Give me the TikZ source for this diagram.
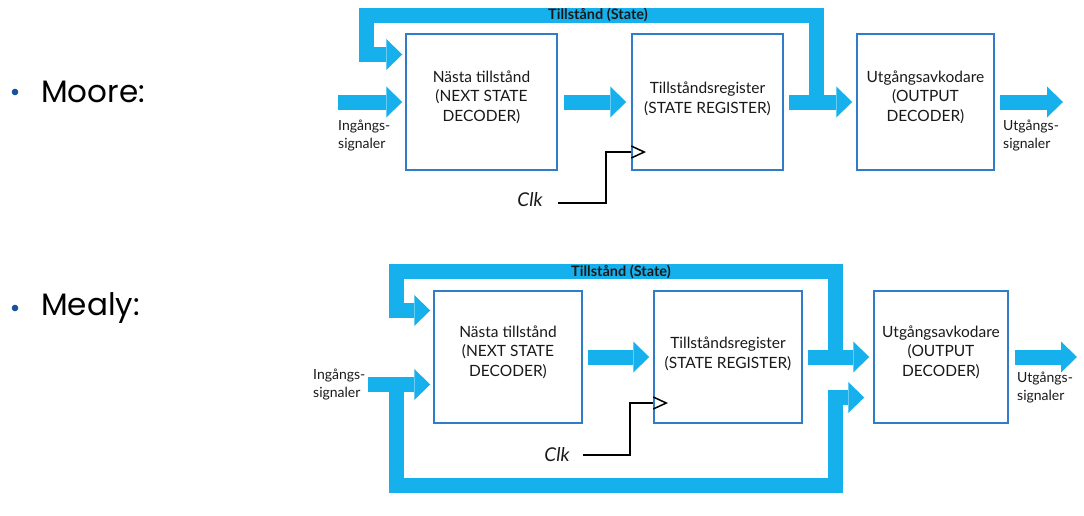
\documentclass[tikz,border=0pt]{standalone}
\usepackage{fontspec}
\setmainfont{Lato}
\newfontfamily\headfont{Poppins}
\definecolor{buscyan}{RGB}{22,176,236}
\definecolor{boxblue}{RGB}{48,124,200}
\definecolor{txt}{RGB}{25,25,25}
\definecolor{bulletblue}{RGB}{25,80,160}
\newcommand\bushead[1]{\fill[buscyan] (#1) -- ++(-16,-15.5) -- ++(0,31) -- cycle;}
\begin{document}
\begin{tikzpicture}[x=1pt,y=-1pt,
  blk/.style={draw=boxblue,line width=1.5pt,fill=white,inner sep=0pt},
  bus/.style={buscyan,line width=15pt,line join=miter,line cap=butt},
  btxt/.style={text=txt,font=\fontsize{15.5}{19.5}\selectfont,align=center},
  sig/.style={text=txt,font=\fontsize{14}{18}\selectfont,align=left,anchor=west,inner sep=0pt},
  statelbl/.style={text=txt,font=\fontsize{14.5}{16}\selectfont\bfseries,inner sep=0pt},
  clklbl/.style={text=txt,font=\fontsize{19}{19}\selectfont\itshape,inner sep=0pt},
  clkline/.style={black,line width=1.5pt},
  head/.style={text=black,font=\headfont\fontsize{31}{31}\selectfont,anchor=west,inner sep=0pt}
]
\useasboundingbox (0,0) rectangle (1084,515);

% ---------- headings ----------
\fill[bulletblue] (15,92) circle (3.3);
\node[head] (hmoore) at (41,92) {Moore:};
\fill[bulletblue] (15,308) circle (3.3);
\node[head] (hmealy) at (41,308) {Mealy:};

% ================= MOORE =================
\node[blk,minimum width=151,minimum height=136] (ns1) at (481.5,102) {};
\node[blk,minimum width=151,minimum height=136] (sr1) at (707.5,102) {};
\node[blk,minimum width=137,minimum height=136] (od1) at (925.5,102) {};
\node[btxt] (ns1t) at ([yshift=5pt]ns1.center) {Nästa tillstånd\\(NEXT STATE\\DECODER)};
\node[btxt] (sr1t) at ([yshift=3pt]sr1.center) {Tillståndsregister\\(STATE REGISTER)};
\node[btxt] (od1t) at ([yshift=5pt]od1.center) {Utgångsavkodare\\(OUTPUT\\DECODER)};

\coordinate (in1) at (338,102);
\coordinate (out1) at (1063,102);
\coordinate (tap1) at (816.5,102);
\draw[bus] (in1) -- ([xshift=-19pt]ns1.west);
\bushead{[xshift=-3pt]ns1.west}
\draw[bus] ([xshift=6pt]ns1.east) -- ([xshift=-21pt]sr1.west);
\bushead{[xshift=-5pt]sr1.west}
\draw[bus] ([xshift=5pt]sr1.east) -- ([xshift=-20pt]od1.west);
\bushead{[xshift=-4pt]od1.west}
\draw[bus] ([xshift=5pt]od1.east) -- ([xshift=-16pt]out1);
\bushead{out1}
\draw[bus] (tap1) -- (816.5,15) -- (366.5,15) -- (366.5,54.5) -- ([xshift=-19pt,yshift=47.5pt]ns1.west);
\bushead{[xshift=-3pt,yshift=47.5pt]ns1.west}
\node[statelbl] (st1) at (598,15) {Tillstånd (State)};

\node[sig] (ins1) at (338,136) {Ingångs-\\signaler};
\node[sig] (uts1) at (1003,136) {Utgångs-\\signaler};

\node[clklbl] (clk1) at (530,200) {Clk};
\coordinate (ck1a) at (558,203);
\coordinate (ck1b) at (606,152);
\draw[clkline] (ck1a) -| (ck1b) -- (sr1.west |- ck1b);
\draw[clkline] ([yshift=6pt]sr1.west |- ck1b) -- ++(13,6) -- ++(-13,6);

% ================= MEALY =================
\node[blk,minimum width=148,minimum height=132] (ns2) at (508,357) {};
\node[blk,minimum width=148,minimum height=132] (sr2) at (728,357) {};
\node[blk,minimum width=134,minimum height=132] (od2) at (941,357) {};
\node[btxt] (ns2t) at ([yshift=5pt]ns2.center) {Nästa tillstånd\\(NEXT STATE\\DECODER)};
\node[btxt] (sr2t) at ([yshift=3pt]sr2.center) {Tillståndsregister\\(STATE REGISTER)};
\node[btxt] (od2t) at ([yshift=5pt]od2.center) {Utgångsavkodare\\(OUTPUT\\DECODER)};

\coordinate (in2) at (368,384.5);
\coordinate (out2) at (1077,357);
\coordinate (tap2) at (835,363);
\coordinate (tap2b) at (396,384.5);
\draw[bus] (in2) -- ([xshift=-19pt,yshift=-27.5pt]ns2.west);
\bushead{[xshift=-3pt,yshift=-27.5pt]ns2.west}
\draw[bus] ([xshift=5pt]ns2.east) -- ([xshift=-20pt]sr2.west);
\bushead{[xshift=-4pt]sr2.west}
\draw[bus] ([xshift=5pt]sr2.east) -- ([xshift=-20pt]od2.west);
\bushead{[xshift=-4pt]od2.west}
\draw[bus] ([xshift=6pt]od2.east) -- ([xshift=-16pt]out2);
\bushead{out2}
\draw[bus] (tap2) -- (835,271) -- (396,271) -- (396,310.5) -- ([xshift=-19pt,yshift=46.5pt]ns2.west);
\bushead{[xshift=-3pt,yshift=46.5pt]ns2.west}
\draw[bus] (tap2b) -- (396,485.5) -- (835,485.5) -- (835,397.5) -- ([xshift=-25pt,yshift=-40.5pt]od2.west);
\bushead{[xshift=-9pt,yshift=-40.5pt]od2.west}
\node[statelbl] (st2) at (621,272) {Tillstånd (State)};

\node[sig] (ins2) at (313,384.5) {Ingångs-\\signaler};
\node[sig] (uts2) at (1017,387.5) {Utgångs-\\signaler};

\node[clklbl] (clk2) at (557,455) {Clk};
\coordinate (ck2a) at (583,455);
\coordinate (ck2b) at (630,403);
\draw[clkline] (ck2a) -| (ck2b) -- (sr2.west |- ck2b);
\draw[clkline] ([yshift=6pt]sr2.west |- ck2b) -- ++(13,6) -- ++(-13,6);
\end{tikzpicture}
\end{document}
